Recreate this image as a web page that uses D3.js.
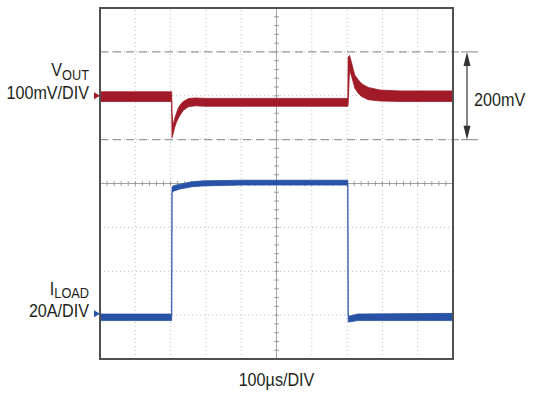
<!DOCTYPE html>
<html>
  <head>
    <meta charset="utf-8">
    <script src="https://d3js.org/d3.v7.min.js"></script>
  </head>
  <style>
    body { margin: 0; background: #fff; }
    text { font-family: "Liberation Sans", Arial, sans-serif; fill: #231f20; }
  </style>
  <body>
    <svg id="chart" width="534" height="399"></svg>
    <script>
      // time in µs, 100µs/DIV, 10 divisions
      var timeDomain = [0, 1000];
      var divDomain = [-4, 4];

      // channel offsets (in divisions from centre) and scale per division
      var voutOffset = 2, voutPerDiv = 100;   // mV
      var iloadOffset = -3, iloadPerDiv = 20; // A

      // VOUT deviation envelope: [time µs, low mV, high mV]
      var voutBand = [
        [0, -13, 9], [203, -13, 9],
        [204, -96, -40], [207.6, -85, -67], [212, -71, -51], [217, -59, -39],
        [222, -51, -28], [227, -44, -21], [236, -33, -13], [251, -25, -6.5],
        [270, -23, -5], [300, -24, -6], [702, -24, -6],
        [703, -20, 88], [707, 60, 92], [713, 43, 74], [718, 29, 58],
        [722, 17, 47], [732, 5, 36], [742, -2, 27], [760, -9, 19],
        [793, -12, 13], [850, -13, 11], [1000, -13, 11]
      ];

      // ILOAD envelope: [time µs, low A, high A]
      var iloadBand = [
        [0, -2.5, 0.5], [203, -2.5, 0.5],
        [204, 55.7, 58.4], [208, 56.5, 59], [227, 57.5, 59.7], [260, 58.5, 60.8],
        [292, 58.9, 61.2], [400, 59.3, 61.5], [702, 59.3, 61.5],
        [703, -3.1, -0.4], [710, -3, -0.3], [730, -2.5, 0.5], [1000, -2.5, 0.8]
      ];

      // dashed reference lines on VOUT (mV)
      var voutRefLines = [100, -100];

      var svg = d3.select("#chart");
      var x = d3.scaleLinear().domain(timeDomain).range([100, 453]);
      var y = d3.scaleLinear().domain(divDomain).range([359, 8]);
      var yV = v => y(voutOffset + v / voutPerDiv);
      var yI = a => y(iloadOffset + a / iloadPerDiv);

      // dotted grid
      var grid = svg.append("g");
      grid.selectAll("line.gx")
        .data(x.ticks(10).filter(t => t > 0 && t < 1000 && t != 500))
        .enter().append("line")
          .attr("x1", d => x(d)).attr("x2", d => x(d))
          .attr("y1", y(-4)).attr("y2", y(4))
          .attr("stroke", "#bdbdbd").attr("stroke-dasharray", "1,3");
      grid.selectAll("line.gy")
        .data(d3.range(-3, 4).filter(d => d != 0))
        .enter().append("line")
          .attr("x1", x(0)).attr("x2", x(1000))
          .attr("y1", d => y(d)).attr("y2", d => y(d))
          .attr("stroke", "#bdbdbd").attr("stroke-dasharray", "1,3");

      // centre axes with minor ticks
      var axisCol = "#8a8a8a";
      grid.append("line")
        .attr("x1", x(0)).attr("x2", x(1000)).attr("y1", y(0)).attr("y2", y(0))
        .attr("stroke", axisCol).attr("stroke-width", 0.8);
      grid.append("line")
        .attr("x1", x(500)).attr("x2", x(500)).attr("y1", y(-4)).attr("y2", y(4))
        .attr("stroke", axisCol).attr("stroke-width", 0.8);
      grid.selectAll("line.tx")
        .data(d3.range(0, 1001, 20))
        .enter().append("line")
          .attr("x1", d => x(d)).attr("x2", d => x(d))
          .attr("y1", y(0) - 2.5).attr("y2", y(0) + 2.5)
          .attr("stroke", axisCol).attr("stroke-width", 0.8);
      grid.selectAll("line.ty")
        .data(d3.range(-40, 41, 2).map(d => d / 10))
        .enter().append("line")
          .attr("x1", x(500) - 2.5).attr("x2", x(500) + 2.5)
          .attr("y1", d => y(d)).attr("y2", d => y(d))
          .attr("stroke", axisCol).attr("stroke-width", 0.8);

      // dashed ±100mV lines
      svg.selectAll("line.ref")
        .data(voutRefLines)
        .enter().append("line")
          .attr("x1", x(0)).attr("x2", 460)
          .attr("y1", d => yV(d)).attr("y2", d => yV(d))
          .attr("stroke", "#9a9a9a").attr("stroke-width", 1.2)
          .attr("stroke-dasharray", "8,5");
      svg.selectAll("line.refEnd")
        .data(voutRefLines)
        .enter().append("line")
          .attr("x1", 461).attr("x2", 478)
          .attr("y1", d => yV(d)).attr("y2", d => yV(d))
          .attr("stroke", "#9a9a9a").attr("stroke-width", 1.2);

      // traces
      var voutArea = d3.area()
        .x(d => x(d[0])).y0(d => yV(d[1])).y1(d => yV(d[2]));
      var iloadArea = d3.area()
        .x(d => x(d[0])).y0(d => yI(d[1])).y1(d => yI(d[2]));

      svg.append("path")
        .attr("d", voutArea(voutBand))
        .attr("fill", "#a01b27").attr("stroke", "#a01b27").attr("stroke-width", 0.8);
      svg.append("path")
        .attr("d", iloadArea(iloadBand))
        .attr("fill", "#2852a5").attr("stroke", "#2852a5").attr("stroke-width", 0.8);

      // frame
      svg.append("rect")
        .attr("x", x(0)).attr("y", y(4))
        .attr("width", x(1000) - x(0)).attr("height", y(-4) - y(4))
        .attr("fill", "none").attr("stroke", "#505050").attr("stroke-width", 2);

      // channel markers
      var marker = (yy, col) => svg.append("path")
        .attr("d", `M${x(0) - 6},${yy - 3.5}L${x(0)},${yy}L${x(0) - 6},${yy + 3.5}Z`)
        .attr("fill", col);
      marker(yV(0), "#a01b27");
      marker(yI(0) - 1.5, "#2852a5");

      // 200mV arrow
      var ax = 467;
      svg.append("line")
        .attr("x1", ax).attr("x2", ax)
        .attr("y1", yV(100) + 8).attr("y2", yV(-100) - 8)
        .attr("stroke", "#333").attr("stroke-width", 1.2);
      svg.append("path")
        .attr("d", `M${ax},${yV(100)}L${ax - 3.5},${yV(100) + 14}L${ax + 3.5},${yV(100) + 14}Z`)
        .attr("fill", "#333");
      svg.append("path")
        .attr("d", `M${ax},${yV(-100)}L${ax - 3.5},${yV(-100) - 14}L${ax + 3.5},${yV(-100) - 14}Z`)
        .attr("fill", "#333");

      // labels (condensed look via horizontal squeeze)
      function label(tx, ty, anchor) {
        return svg.append("g")
          .attr("transform", `translate(${tx},${ty}) scale(0.85,1)`)
          .append("text").attr("font-size", 19).attr("text-anchor", anchor);
      }
      var vt = label(89, 76, "end");
      vt.append("tspan").text("V");
      vt.append("tspan").attr("font-size", 15).attr("dy", 4).text("OUT");
      label(89, 99, "end").text("100mV/DIV");

      var it = label(89, 295, "end");
      it.append("tspan").text("I");
      it.append("tspan").attr("font-size", 15).attr("dy", 3).text("LOAD");
      label(89, 317, "end").text("20A/DIV");

      label(474, 106, "start").text("200mV");
      label(x(500), 386, "middle").text("100µs/DIV");
    </script>
  </body>
</html>
